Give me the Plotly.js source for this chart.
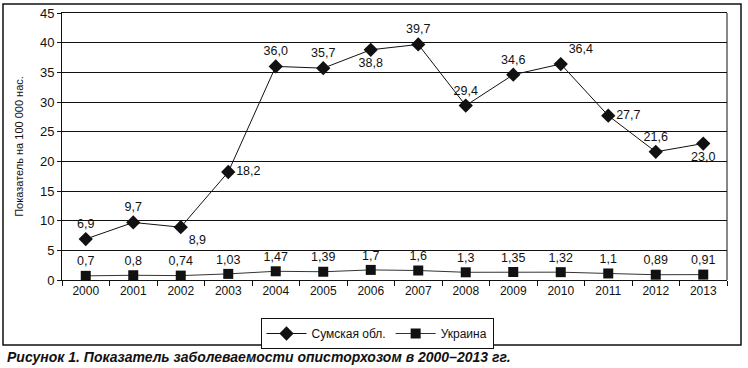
<!DOCTYPE html>
<html>
<head>
<meta charset="utf-8">
<script src="https://cdn.plot.ly/plotly-3.0.1.min.js"></script>
<style>
html,body{margin:0;padding:0;background:#fff;}
#chart{width:748px;height:368px;}
</style>
</head>
<body>
<div id="chart"></div>
<script>
const years = ['2000','2001','2002','2003','2004','2005','2006','2007','2008','2009','2010','2011','2012','2013'];
const sumyValues = [6.9, 9.7, 8.9, 18.2, 36.0, 35.7, 38.8, 39.7, 29.4, 34.6, 36.4, 27.7, 21.6, 23.0];
const sumyLabels = ['6,9','9,7','8,9','18,2','36,0','35,7','38,8','39,7','29,4','34,6','36,4','27,7','21,6','23,0'];
const sumyLabelPos = ['top center','top center','bottom right','middle right','top center','top center','bottom center','top center','top center','top center','top right','middle right','top center','bottom center'];
const ukraineValues = [0.7, 0.8, 0.74, 1.03, 1.47, 1.39, 1.7, 1.6, 1.3, 1.35, 1.32, 1.1, 0.89, 0.91];
const ukraineLabels = ['0,7','0,8','0,74','1,03','1,47','1,39','1,7','1,6','1,3','1,35','1,32','1,1','0,89','0,91'];
const seriesNames = ['Сумская обл.', 'Украина'];
const yTitle = 'Показатель на 100 000 нас.';
const caption = 'Рисунок 1. Показатель заболеваемости описторхозом в 2000–2013 гг.';

const FONT = 'Liberation Sans, Arial, sans-serif';
const L = 62, R = 727, T = 13, B = 280, W = 748, H = 368;
const px = x => (x - L) / (R - L);
const py = y => (B - y) / (B - T);

const traces = [
  {
    x: years, y: sumyValues, name: seriesNames[0], type: 'scatter', mode: 'lines+markers+text',
    text: sumyLabels, textposition: sumyLabelPos,
    textfont: {family: FONT, size: 12.5, color: '#111'},
    line: {color: '#111', width: 1},
    marker: {symbol: 'diamond', size: 11, color: '#111'},
    cliponaxis: false
  },
  {
    x: years, y: ukraineValues, name: seriesNames[1], type: 'scatter', mode: 'lines+markers+text',
    text: ukraineLabels, textposition: 'top center',
    textfont: {family: FONT, size: 12.5, color: '#111'},
    line: {color: '#333', width: 1},
    marker: {symbol: 'square', size: 10, color: '#111'},
    cliponaxis: false
  }
];

const layout = {
  width: W, height: H,
  margin: {l: L, r: W - R, t: T, b: H - B},
  paper_bgcolor: '#fff', plot_bgcolor: '#fff',
  font: {family: FONT, size: 12, color: '#111'},
  showlegend: true,
  legend: {
    orientation: 'h', x: px(377), xanchor: 'center', y: py(318), yanchor: 'top',
    bordercolor: '#111', borderwidth: 1, font: {family: FONT, size: 12, color: '#111'},
    itemwidth: 40, tracegroupgap: 0
  },
  xaxis: {
    type: 'category', range: [-0.5, 13.5],
    showline: true, linecolor: '#111', linewidth: 1, mirror: true,
    ticks: 'outside', ticklen: 5, tickcolor: '#111', tickson: 'boundaries',
    showgrid: false, zeroline: false,
    tickfont: {family: FONT, size: 12, color: '#111'}
  },
  yaxis: {
    range: [0, 45], dtick: 5,
    showline: true, linecolor: '#111', linewidth: 1,
    ticks: 'outside', ticklen: 4, tickcolor: '#111',
    showgrid: true, gridcolor: '#111', gridwidth: 1, zeroline: false,
    tickfont: {family: FONT, size: 13, color: '#111'},
    title: {text: yTitle, font: {family: FONT, size: 11, color: '#111'}, standoff: 14}
  },
  shapes: [
    {type: 'rect', xref: 'paper', yref: 'paper', x0: px(3), x1: px(741), y0: py(345), y1: py(4),
     line: {color: '#111', width: 1.5}, fillcolor: 'rgba(0,0,0,0)', layer: 'below'},
    {type: 'line', xref: 'paper', yref: 'paper', x0: 1, x1: 1, y0: 0, y1: 1, line: {color: '#111', width: 1}}
  ],
  annotations: [
    {xref: 'paper', yref: 'paper', x: px(5), y: py(357), xanchor: 'left', yanchor: 'middle',
     text: '<b><i>' + caption + '</i></b>', showarrow: false,
     font: {family: FONT, size: 14, color: '#111'}}
  ]
};

Plotly.newPlot('chart', traces, layout, {displayModeBar: false, staticPlot: true});
</script>
</body>
</html>
